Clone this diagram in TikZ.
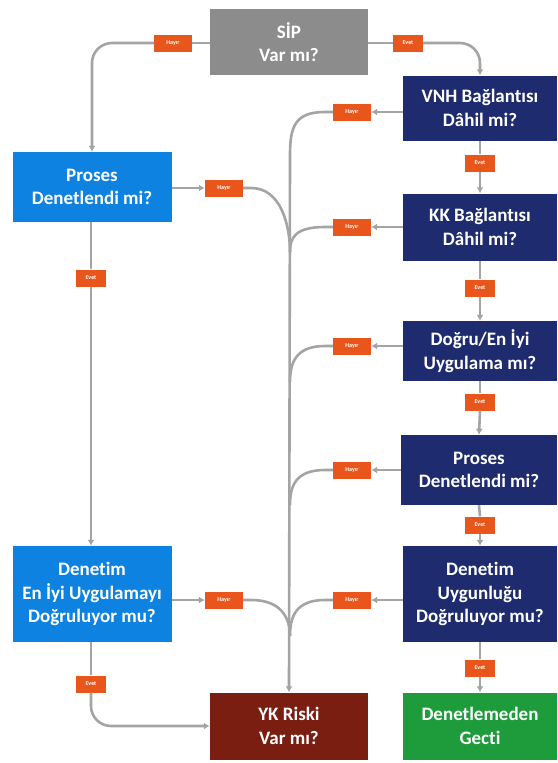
\documentclass[tikz,border=0pt]{standalone}
\usepackage{fontspec}
\setmainfont[Ligatures=NoCommon]{Carlito}
\usetikzlibrary{arrows.meta}
\definecolor{boxgray}{HTML}{8C8C8C}
\definecolor{navy}{HTML}{1E2B6E}
\definecolor{bluebox}{HTML}{0E82E0}
\definecolor{darkred}{HTML}{7A1E12}
\definecolor{greenbox}{HTML}{1E9B3A}
\definecolor{labor}{HTML}{E8561C}
\definecolor{linegray}{HTML}{A4A4A4}
\begin{document}
\begin{tikzpicture}[x=1pt,y=-1pt,
  box/.style={text=white, font=\fontsize{19}{23.5}\selectfont\bfseries, align=center, inner sep=0pt},
  lab/.style={fill=labor, text=white, font=\fontsize{6}{7}\selectfont\bfseries, inner xsep=0pt, inner ysep=0pt, minimum height=17pt},
  hlab/.style={lab, minimum width=38pt},
  elab/.style={lab, minimum width=30pt},
  con/.style={draw=linegray, line width=2.6pt},
  arr/.style={con, -{Latex[length=6pt,width=7pt]}}]
\fill[white] (0,0) rectangle (557,763);
\useasboundingbox (0,0) rectangle (557,763);

% boxes
\node[box, fill=boxgray, minimum width=158pt, minimum height=66pt] (sip) at (289,42) {SİP\\Var mı?};
\node[box, fill=navy, minimum width=154pt, minimum height=65pt] (vnh) at (480,108) {VNH Bağlantısı\\Dâhil mi?};
\node[box, fill=bluebox, minimum width=159pt, minimum height=70pt] (pl) at (92,187) {Proses\\Denetlendi mi?};
\node[box, fill=navy, minimum width=154pt, minimum height=67pt] (kk) at (480,227) {KK Bağlantısı\\Dâhil mi?};
\node[box, fill=navy, minimum width=154pt, minimum height=60pt] (dg) at (480,351) {Doğru/En İyi\\Uygulama mı?};
\node[box, fill=navy, minimum width=156pt, minimum height=70pt] (pr) at (479,470) {Proses\\Denetlendi mi?};
\node[box, fill=navy, minimum width=154pt, minimum height=96pt] (dr) at (480,594) {Denetim\\Uygunluğu\\Doğruluyor mu?};
\node[box, fill=bluebox, minimum width=159pt, minimum height=96pt] (dl) at (92,594) {Denetim\\En İyi Uygulamayı\\Doğruluyor mu?};
\node[box, fill=darkred, minimum width=158pt, minimum height=67pt] (yk) at (289,726) {YK Riski\\Var mı?};
\node[box, fill=greenbox, minimum width=154pt, minimum height=67pt] (gc) at (480,726) {Denetlemeden\\Gecti};

% labels
\node[hlab] (lsiph) at (173,43) {Hayır};
\node[elab] (lsipe) at (408,43) {Evet};
\node[hlab] (lvnh) at (352,112) {Hayır};
\node[hlab] (lpl) at (224,188) {Hayır};
\node[hlab] (lkk) at (352,227) {Hayır};
\node[hlab] (ldg) at (352,346) {Hayır};
\node[hlab] (lpr) at (352,470) {Hayır};
\node[hlab] (ldr) at (352,600) {Hayır};
\node[hlab] (ldl) at (224,600) {Hayır};
\node[elab] (evnh) at (480,163) {Evet};
\node[elab] (ekk) at (480,288) {Evet};
\node[elab] (edg) at (480,402) {Evet};
\node[elab] (epr) at (480,525) {Evet};
\node[elab] (edr) at (480,668) {Evet};
\node[elab] (epl) at (91,278) {Evet};
\node[elab] (edl) at (91,684) {Evet};

% junctions on the trunk
\coordinate (j1) at (290,252);
\coordinate (j2) at (290,382);
\coordinate (j3) at (290,505);
\coordinate (j4) at (290,636);

% SIP connections
\draw[con] (sip.west |- lsiph) -- (lsiph.east);
\draw[arr, rounded corners=20pt] (lsiph.west) -| (pl.north);
\draw[con] (sip.east |- lsipe) -- (lsipe.west);
\draw[arr, rounded corners=20pt] (lsipe.east) -| (vnh.north);

% trunk from VNH
\draw[arr] (vnh.west |- lvnh) -- (lvnh.east);
\draw[arr] (lvnh.west) -- ++(-8,0) .. controls +(-30,0) and +(0,-28) .. (290,155) -- (yk.north);

% branches into trunk
\draw[arr] (pl.east |- lpl) -- (lpl.west);
\draw[con] (lpl.east) -- ++(8,0) .. controls +(30,0) and +(0,-26) .. (j1);
\draw[arr] (kk.west |- lkk) -- (lkk.east);
\draw[con] (lkk.west) -- ++(-8,0) .. controls +(-30,0) and +(0,-14) .. (j1);
\draw[arr] (dg.west |- ldg) -- (ldg.east);
\draw[con] (ldg.west) -- ++(-8,0) .. controls +(-30,0) and +(0,-18) .. (j2);
\draw[arr] (pr.west |- lpr) -- (lpr.east);
\draw[con] (lpr.west) -- ++(-8,0) .. controls +(-30,0) and +(0,-18) .. (j3);
\draw[arr] (dr.west |- ldr) -- (ldr.east);
\draw[con] (ldr.west) -- ++(-8,0) .. controls +(-30,0) and +(0,-18) .. (j4);
\draw[arr] (dl.east |- ldl) -- (ldl.west);
\draw[con] (ldl.east) -- ++(8,0) .. controls +(30,0) and +(0,-18) .. (j4);

% right column Evet
\draw[con] (vnh.south) -- (evnh.north);
\draw[arr] (evnh.south) -- (kk.north);
\draw[con] (kk.south) -- (ekk.north);
\draw[arr] (ekk.south) -- (dg.north);
\draw[con] (dg.south) -- (edg.north);
\draw[arr] (edg.south) -- (pr.north);
\draw[con] (pr.south) -- (epr.north);
\draw[arr] (epr.south) -- (dr.north);
\draw[con] (dr.south) -- (edr.north);
\draw[arr] (edr.south) -- (gc.north);

% left column Evet
\draw[con] (pl.south -| epl) -- (epl.north);
\draw[arr] (epl.south) -- (dl.north -| epl);
\draw[con] (dl.south -| edl) -- (edl.north);
\draw[arr, rounded corners=20pt] (edl.south) |- (yk.west);
\end{tikzpicture}
\end{document}
